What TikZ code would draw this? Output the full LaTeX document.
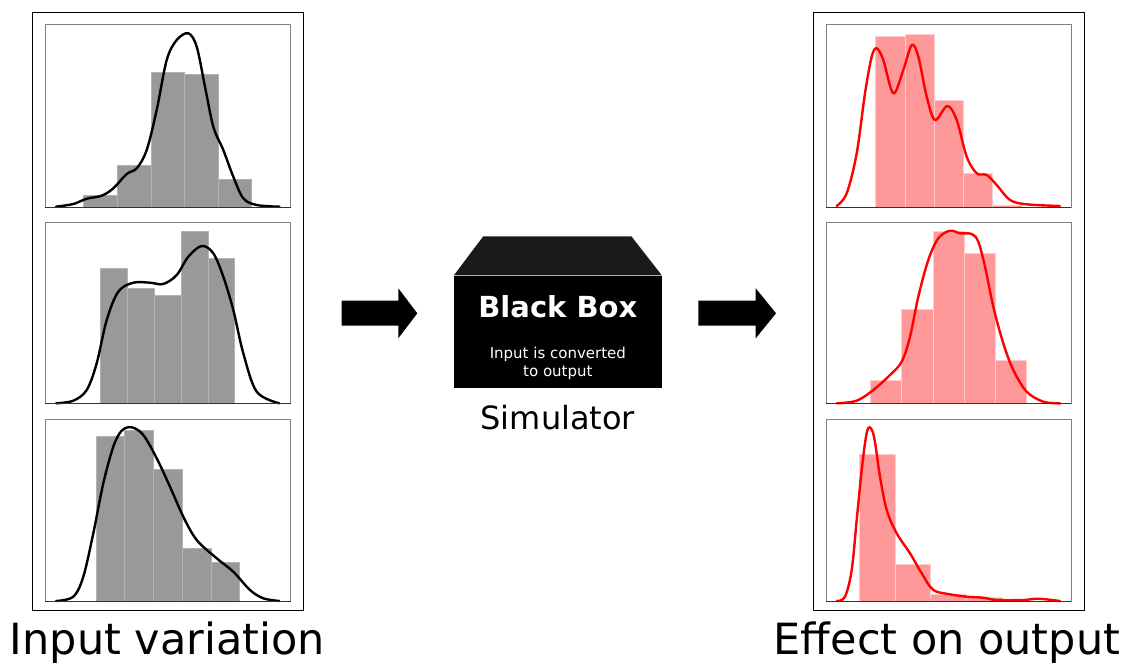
\documentclass[tikz,border=0pt]{standalone}
\usepackage{fontspec}
\setmainfont{DejaVu Sans}
\usetikzlibrary{positioning}

\definecolor{bargray}{HTML}{999999}
\definecolor{barpink}{HTML}{FF9999}
\definecolor{roofgray}{HTML}{1A1A1A}

\tikzset{
  outerframe/.style={draw=black, line width=0.9pt},
  axframe/.style={draw=black!50, line width=1pt},
  axbottom/.style={draw=black!80, line width=1pt},
  graybar/.style={fill=bargray, draw=black!30, line width=0.7pt},
  pinkbar/.style={fill=barpink, draw=red!20, line width=0.7pt},
  kdeblack/.style={draw=black, line width=2.4pt, line join=round, line cap=round},
  kdered/.style={draw=red, line width=2.4pt, line join=round, line cap=round},
  fatarrow/.style={fill=black},
  bigtext/.style={font=\fontsize{43}{50}\selectfont, inner sep=0pt, anchor=base},
  simtext/.style={font=\fontsize{32}{36}\selectfont, inner sep=0pt, anchor=base},
  boxtitle/.style={font=\fontsize{29}{34}\selectfont\bfseries, text=white, inner sep=0pt, anchor=base},
  boxnote/.style={font=\fontsize{15}{18}\selectfont, text=white, inner sep=0pt, anchor=base},
  blackbox/.style={fill=black, minimum width=207.7pt, minimum height=112.7pt, inner sep=0pt},
}

\begin{document}
\begin{tikzpicture}[x=1pt, y=-1pt, line join=round]
  \useasboundingbox (0,0) rectangle (1129,664);

  % ---------- input side ----------
  \draw[outerframe] (32.7,12.7) rectangle (303,610);

  % panel 1
  \foreach \a/\b/\h in {83.3/117.3/195, 117.3/151/165, 151/184.7/72, 184.7/218.3/74, 218.3/251.7/179.3}
    \filldraw[graybar] (\a,\h) rectangle (\b,207);
  \draw[kdeblack] plot[smooth, tension=0.55] coordinates {(56,206.7) (73.3,204) (86.7,198.7) (101.7,195.7)
    (113.3,188.3) (126.7,174) (136.7,168.3) (146.7,150) (156.7,110) (166.7,60) (176.7,40) (188.3,33.3)
    (196.7,46.7) (205,86.7) (213.3,126.7) (223.3,150) (233.3,176.7) (243.3,198.3) (256.7,205) (279.3,206.7)};
  \draw[axframe] (45,24.7) rectangle (290.7,207);
  \draw[axbottom] (45,207) -- (290.7,207);

  % panel 2
  \foreach \a/\b/\h in {100.7/127.3/268.3, 127.3/154.3/288.3, 154.3/181.3/295.3, 181.3/208.3/231, 208.3/234.7/258.3}
    \filldraw[graybar] (\a,\h) rectangle (\b,403.7);
  \draw[kdeblack] plot[smooth, tension=0.55] coordinates {(56,403.3) (73.3,400.7) (86.7,390) (96.7,363.3)
    (106.7,320) (118.3,291.7) (133.3,282.7) (150,282.7) (163.3,284) (176.7,275) (188.3,256.7) (201.7,246)
    (213.3,253.3) (223.3,276.7) (233.3,310) (243.3,353.3) (256.7,391.7) (279.3,403.3)};
  \draw[axframe] (45,222.3) rectangle (290.7,403.7);
  \draw[axbottom] (45,403.7) -- (290.7,403.7);

  % panel 3
  \foreach \a/\b/\h in {96/124.3/436, 124.3/153.3/430.7, 153.3/182.3/469.3, 182.3/211/548, 211/239.3/562.3}
    \filldraw[graybar] (\a,\h) rectangle (\b,601);
  \draw[kdeblack] plot[smooth, tension=0.55] coordinates {(56,601) (73.3,596.7) (83.3,576.7) (93.3,533.3)
    (103.3,483.3) (113.3,446.7) (121.7,430.7) (131.7,427.3) (143.3,435) (156.7,458.3) (170,486.7)
    (183.3,516.7) (196.7,540) (216.7,558.3) (233.3,571.7) (250,590) (263.3,598.3) (279.3,601)};
  \draw[axframe] (45,419) rectangle (290.7,601);
  \draw[axbottom] (45,601) -- (290.7,601);

  \node[bigtext] (inlabel) at (167.5,654.5) {Input variation};

  % ---------- arrows ----------
  \fill[fatarrow] (341.7,300.7) -- (398.3,300.7) -- (398.3,288.3) -- (417.3,313.3)
    -- (398.3,338.3) -- (398.3,325.7) -- (341.7,325.7) -- cycle;
  \fill[fatarrow] (698.3,300.7) -- (755.7,300.7) -- (755.7,288.3) -- (776,313.3)
    -- (755.7,338.3) -- (755.7,325.7) -- (698.3,325.7) -- cycle;

  % ---------- black box ----------
  \node[blackbox] (bbox) at (557.85,332) {};
  \fill[roofgray] (bbox.north west) -- ++(29.3,-39) -- ++(148.4,0) -- (bbox.north east) -- cycle;
  \node[boxtitle] (bbtitle) at (557.85,317.3) {Black Box};
  \node[boxnote] (bbnote1) at (557.85,358.3) {Input is converted};
  \node[boxnote] (bbnote2) at (557.85,376.7) {to output};
  \node[simtext] (simlabel) at (557.85,429.5) {Simulator};

  % ---------- output side ----------
  \draw[outerframe] (813.3,12.7) rectangle (1084.5,610);

  % panel 1
  \foreach \a/\b/\h in {875.3/905/36, 905/934/34, 934/963.3/100, 963.3/992.7/173.3, 992.7/1022/205}
    \filldraw[pinkbar] (\a,\h) rectangle (\b,207.3);
  \draw[kdered] plot[smooth, tension=0.55] coordinates {(836.7,206) (846.7,193.3) (856.7,153.3) (865,93.3)
    (871.7,56.7) (876.7,48.3) (883.3,60) (893.3,93.3) (903.3,70) (911.7,45) (918.3,56.7) (926.7,96.7)
    (935,120) (947.3,106) (956.7,120) (966.7,156.7) (976.7,173.3) (986.7,175) (996.7,185) (1010,200)
    (1026.7,204.3) (1060,206)};
  \draw[axframe] (826,24.7) rectangle (1071,207.3);
  \draw[axbottom] (826,207.3) -- (1071,207.3);

  % panel 2
  \foreach \a/\b/\h in {870.3/901.7/380, 901.7/933/309, 933/964/231, 964/995.3/253.3, 995.3/1026.7/360.3}
    \filldraw[pinkbar] (\a,\h) rectangle (\b,403.7);
  \draw[kdered] plot[smooth, tension=0.55] coordinates {(836.7,403.3) (856.7,400.7) (873.3,390) (890,375)
    (901.7,361.7) (910,336.7) (918.3,296.7) (928.3,260) (938.3,238.3) (950,230.7) (960,233.3)
    (971.7,234) (978.3,241.7) (985,266.7) (993.3,306.7) (1003.3,343.3) (1013.3,370) (1026.7,391.7)
    (1043.3,401.7) (1060,403.3)};
  \draw[axframe] (826,222.3) rectangle (1071,403.7);
  \draw[axbottom] (826,403.7) -- (1071,403.7);

  % panel 3
  \foreach \a/\b/\h in {859.3/895/454, 895/930.7/564.3, 930.7/966.7/594, 966.7/1002.3/597.3}
    \filldraw[pinkbar] (\a,\h) rectangle (\b,601);
  \draw[kdered] plot[smooth, tension=0.55] coordinates {(836.7,601) (845,596.7) (851.7,570) (856.7,520)
    (861.7,470) (866,436.7) (869.3,427.3) (874,436.7) (880,476.7) (886.7,510) (896.7,533.3) (910,553.3)
    (921.7,573.3) (933.3,590) (950,594.3) (966.7,596.7) (983.3,597.7) (996.7,600) (1023.3,600)
    (1038.3,598.7) (1060,601)};
  \draw[axframe] (826,419) rectangle (1071,601);
  \draw[axbottom] (826,601) -- (1071,601);

  \node[bigtext] (outlabel) at (947,654.5) {Effect on output};
\end{tikzpicture}
\end{document}
